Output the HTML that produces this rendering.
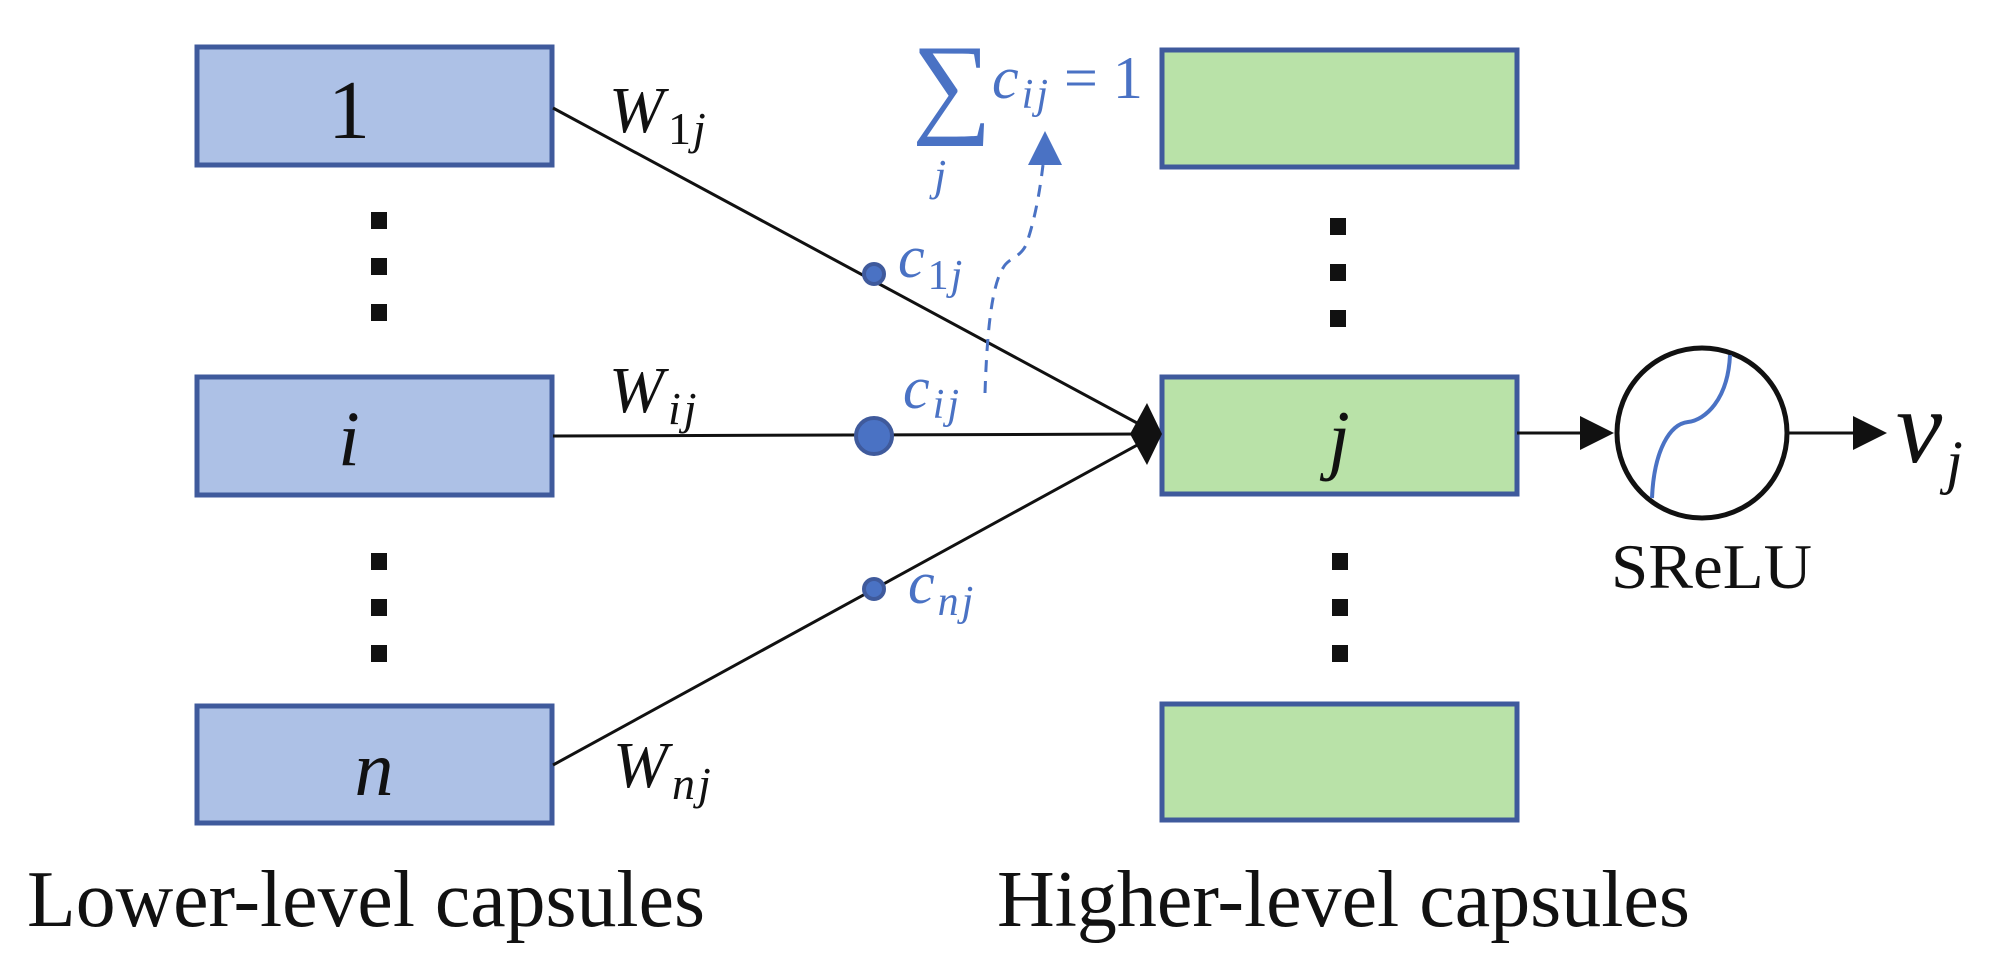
<!DOCTYPE html>
<html><head><meta charset="utf-8"><style>html,body{margin:0;padding:0;background:#fff;}svg{display:block}</style></head>
<body>
<svg width="2004" height="968" viewBox="0 0 2004 968" xmlns="http://www.w3.org/2000/svg">
<g fill="#adc1e6" stroke="#3f5a9c" stroke-width="5">
<rect x="197" y="47" width="355" height="118"/>
<rect x="197" y="377" width="355" height="118"/>
<rect x="197" y="706" width="355" height="117"/>
</g>
<g fill="#b9e2a8" stroke="#3f5a9c" stroke-width="5">
<rect x="1162" y="50" width="355" height="117"/>
<rect x="1162" y="377" width="355" height="117"/>
<rect x="1162" y="704" width="355" height="116"/>
</g>
<g fill="#111">
<rect x="371" y="212" width="16" height="17"/><rect x="371" y="258" width="16" height="17"/><rect x="371" y="304" width="16" height="17"/>
<rect x="371" y="553" width="16" height="17"/><rect x="371" y="599" width="16" height="17"/><rect x="371" y="645" width="16" height="17"/>
<rect x="1330" y="218" width="16" height="17"/><rect x="1330" y="264" width="16" height="17"/><rect x="1330" y="310" width="16" height="17"/>
<rect x="1332" y="553" width="16" height="17"/><rect x="1332" y="599" width="16" height="17"/><rect x="1332" y="645" width="16" height="17"/>
</g>
<g stroke="#111" stroke-width="3" fill="none">
<line x1="553" y1="108" x2="1150" y2="430"/>
<line x1="553" y1="436" x2="1150" y2="434"/>
<line x1="553" y1="765" x2="1150" y2="438"/>
<line x1="1517" y1="433" x2="1585" y2="433"/>
<line x1="1789" y1="433" x2="1855" y2="433"/>
</g>
<polygon points="1147,403 1162,434 1147,465 1130,434" fill="#111"/>
<polygon points="1580,416 1614,433 1580,450" fill="#111"/>
<polygon points="1853,416 1887,433 1853,450" fill="#111"/>
<g fill="#4a72c4" stroke="#3f5a9c" stroke-width="4">
<circle cx="874" cy="274" r="10"/>
<circle cx="874" cy="436" r="18"/>
<circle cx="874" cy="589" r="10"/>
</g>
<path d="M985,393 C987,330 992,285 1003,268 C1008,258 1020,258 1026,245 C1035,220 1040,190 1043,165" fill="none" stroke="#4a72c4" stroke-width="3" stroke-dasharray="12,9"/>
<polygon points="1045,131 1062,165 1028,165" fill="#4a72c4"/>
<circle cx="1702" cy="433" r="85" fill="none" stroke="#111" stroke-width="5"/>
<path d="M1652,498 C1654,450 1670,424 1688,422 C1705,420 1728,400 1730,355" fill="none" stroke="#4a72c4" stroke-width="4"/>
<g font-family="Liberation Serif, serif" fill="#111">
<text x="349" y="138" font-size="84" text-anchor="middle">1</text>
<text x="349" y="465" font-size="78" font-style="italic" text-anchor="middle">i</text>
<text x="374" y="795" font-size="78" font-style="italic" text-anchor="middle">n</text>
<text x="1339" y="465" font-size="78" font-style="italic" text-anchor="middle">j</text>
<text x="609" y="132" font-size="66" font-style="italic">W<tspan font-size="46" dy="12" dx="4" font-style="normal">1</tspan><tspan font-size="46" dx="2">j</tspan></text>
<text x="609" y="412" font-size="66" font-style="italic">W<tspan font-size="46" dy="12" dx="4">i</tspan><tspan font-size="46" dx="3">j</tspan></text>
<text x="613" y="787" font-size="66" font-style="italic">W<tspan font-size="46" dy="12" dx="4">n</tspan><tspan font-size="46" dx="3">j</tspan></text>
<text x="1896" y="462" font-size="104" font-style="italic">v<tspan font-size="60" dy="20" dx="4">j</tspan></text>
<text x="1611" y="588" font-size="64" textLength="201" lengthAdjust="spacingAndGlyphs">SReLU</text>
<text x="27" y="926" font-size="80" textLength="678" lengthAdjust="spacingAndGlyphs">Lower-level capsules</text>
<text x="997" y="926" font-size="80" textLength="693" lengthAdjust="spacingAndGlyphs">Higher-level capsules</text>
</g>
<g font-family="Liberation Serif, serif" fill="#4a72c4" font-style="italic">
<text x="898" y="277" font-size="60">c<tspan font-size="42" dy="12" dx="3" font-style="normal">1</tspan><tspan font-size="42" dx="2">j</tspan></text>
<text x="903" y="408" font-size="60">c<tspan font-size="42" dy="10" dx="3">i</tspan><tspan font-size="42" dx="3">j</tspan></text>
<text x="908" y="603" font-size="60">c<tspan font-size="42" dy="12" dx="3">n</tspan><tspan font-size="42" dx="3">j</tspan></text>
<text x="992" y="98" font-size="60">c<tspan font-size="42" dy="10" dx="3">i</tspan><tspan font-size="42" dx="3">j</tspan></text>
<text x="1064" y="98" font-size="60" font-style="normal">= 1</text>
<text x="912" y="122" font-size="112" font-style="normal">∑</text>
<text x="934" y="190" font-size="44">j</text>
</g>
</svg>
</body></html>
